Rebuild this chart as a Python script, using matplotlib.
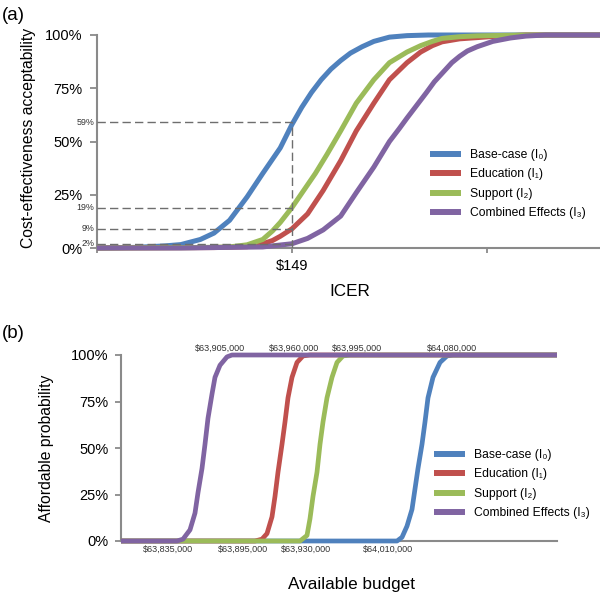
import matplotlib
matplotlib.use('Agg')
import matplotlib.pyplot as plt

plt.rcParams['font.family'] = ['Liberation Sans', 'DejaVu Sans']

# ---- data ----
names = ['Base-case (I₀)', 'Education (I₁)', 'Support (I₂)', 'Combined Effects (I₃)']
colors = ['#4F81BD', '#C0504D', '#9BBB59', '#8064A2']

# (a) acceptability curves; x is an ICER index where $149 sits at 100
icer_base = [0, 20, 35, 43, 53, 60, 68, 77, 85, 94, 100, 105, 110, 115, 120, 125, 130,
             136, 142, 150, 159, 170, 258]
acc_base = [0, 0.3, 1, 1.6, 4, 7, 13, 24, 35, 47, 58, 66, 73, 79, 84, 88, 91.5,
            94.5, 97, 99, 99.7, 100, 100]
icer_edu = [0, 60, 77, 85, 90, 94, 100, 108, 116, 125, 133, 142, 150, 159, 166, 172, 177,
            186, 203, 220, 258]
acc_edu = [0, 0.2, 0.6, 2, 3.5, 5.5, 9, 16, 27, 41, 55, 68, 79, 87, 92, 95, 96.8,
           98.2, 99.3, 100, 100]
icer_sup = [0, 50, 68, 77, 85, 90, 94, 100, 106, 112, 118, 125, 133, 142, 150, 159, 166,
            172, 177, 186, 195, 220, 258]
acc_sup = [0, 0.2, 0.5, 1.5, 4, 8, 12, 19, 27, 35, 44, 55, 68, 79, 87, 92, 95,
           97, 98.4, 99.2, 99.6, 100, 100]
icer_comb = [0, 43, 85, 100, 108, 116, 125, 133, 142, 150, 155, 159, 164, 169, 173, 177,
             182, 186, 190, 195, 203, 212, 220, 230, 258]
acc_comb = [0, 0, 0.5, 2, 4.5, 8.5, 15, 26, 38, 50, 56, 61, 67, 73, 78, 82,
            87, 90, 92.5, 94.5, 97, 98.6, 99.5, 100, 100]
icer_ticks = [0, 100, 200]
icer_ticklabels = ['', '$149', '']
ref_icer = 100
ref_levels = [59, 19, 9, 2]

# (b) affordability curves; x is a budget index
bud_base = [0, 276, 281, 286, 291, 294, 297, 301, 304, 307, 312, 319, 326, 332, 436]
aff_base = [0, 0, 2, 8, 17, 28, 39, 52, 64, 77, 88, 96, 99.5, 100, 100]
bud_edu = [0, 134, 141, 146, 151, 154, 157, 161, 164, 167, 171, 176, 182, 189, 436]
aff_edu = [0, 0, 1, 4, 13, 24, 37, 52, 64, 77, 88, 96, 99.5, 100, 100]
bud_sup = [0, 179, 186, 189, 192, 196, 199, 202, 206, 211, 216, 222, 229, 436]
aff_sup = [0, 0, 3, 12, 24, 37, 52, 64, 77, 88, 96, 99.5, 100, 100]
bud_comb = [0, 56, 62, 69, 74, 77, 81, 84, 87, 91, 94, 99, 106, 111, 436]
aff_comb = [0, 0, 1, 6, 15, 26, 39, 52, 66, 79, 88, 94.5, 99, 100, 100]
low_labels = ['$63,835,000', '$63,895,000', '$63,930,000', '$64,010,000']
high_labels = ['$63,905,000', '$63,960,000', '$63,995,000', '$64,080,000']
low_label_x = [47, 122, 185, 267]
high_label_x = [99, 173, 236, 331]

pct_ticks = [0, 25, 50, 75, 100]
pct_labels = ['0%', '25%', '50%', '75%', '100%']
grey = '#8a8a8a'

fig = plt.figure(figsize=(6, 5.95), dpi=100)


def style_axes(ax, ticklen, pad):
    for s in ['top', 'right']:
        ax.spines[s].set_visible(False)
    for s in ['left', 'bottom']:
        ax.spines[s].set_color(grey)
        ax.spines[s].set_linewidth(1.5)
    ax.set_ylim(0, 100)
    ax.set_yticks(pct_ticks)
    ax.set_yticklabels(pct_labels)
    ax.tick_params(axis='y', length=ticklen, width=1.3, color=grey, pad=pad, labelsize=10.5)


# ---- panel (a) ----
ax1 = fig.add_axes([97 / 600, 1 - 248 / 595, 503 / 600, 213 / 595])
style_axes(ax1, 5, 5.5)
ax1.set_xlim(0, 258)
ax1.set_xticks(icer_ticks)
ax1.set_xticklabels(icer_ticklabels)
ax1.tick_params(axis='x', length=3.6, width=1.3, color=grey, pad=4, labelsize=10.5)

for xs, ys, c, n in zip([icer_base, icer_edu, icer_sup, icer_comb],
                        [acc_base, acc_edu, acc_sup, acc_comb], colors, names):
    ax1.plot(xs, ys, color=c, lw=3.6, label=n, clip_on=False, zorder=3,
             solid_capstyle='butt', solid_joinstyle='round')

for lv in ref_levels:
    ax1.plot([0, ref_icer], [lv, lv], color='#6e6e6e', lw=1, ls=(0, (6, 3)), zorder=4)
    ax1.text(-1.5, lv, f'{lv}%', ha='right', va='center', fontsize=6.4, color='#333333')
ax1.plot([ref_icer, ref_icer], [0, max(ref_levels)], color='#6e6e6e', lw=1, ls=(0, (6, 3)), zorder=4)

leg1 = ax1.legend(loc='upper left', bbox_to_anchor=(430 / 600, 1 - 149 / 595),
                  bbox_transform=fig.transFigure, frameon=False, fontsize=8.7,
                  handlelength=2.6, handletextpad=0.7, labelspacing=0.62,
                  borderpad=0, borderaxespad=0)
for h in leg1.get_lines():
    h.set_linewidth(4.3)

fig.text(2 / 600, 1 - 15 / 595, '(a)', fontsize=13.5, va='center', ha='left')
fig.text(29 / 600, 1 - 138 / 595, 'Cost-effectiveness acceptability', rotation=90,
         fontsize=11.3, ha='center', va='center')
fig.text(350 / 600, 1 - 292 / 595, 'ICER', fontsize=12.3, ha='center', va='center')

# ---- panel (b) ----
ax2 = fig.add_axes([121 / 600, 1 - 541 / 595, 436 / 600, 186 / 595])
style_axes(ax2, 4.3, 4.5)
ax2.set_xlim(0, 436)
ax2.set_xticks([])

for xs, ys, c, n in zip([bud_base, bud_edu, bud_sup, bud_comb],
                        [aff_base, aff_edu, aff_sup, aff_comb], colors, names):
    ax2.plot(xs, ys, color=c, lw=3.4, label=n, clip_on=False, zorder=3,
             solid_capstyle='butt', solid_joinstyle='round')

for x, t in zip(low_label_x, low_labels):
    ax2.text(x, -4.3, t, ha='center', va='center', fontsize=6.5, color='#333333', clip_on=False)
for x, t in zip(high_label_x, high_labels):
    ax2.text(x, 103.8, t, ha='center', va='center', fontsize=6.5, color='#333333', clip_on=False)

leg2 = ax2.legend(loc='upper left', bbox_to_anchor=(434 / 600, 1 - 449 / 595),
                  bbox_transform=fig.transFigure, frameon=False, fontsize=8.7,
                  handlelength=2.6, handletextpad=0.7, labelspacing=0.62,
                  borderpad=0, borderaxespad=0)
for h in leg2.get_lines():
    h.set_linewidth(4.3)

fig.text(2 / 600, 1 - 334 / 595, '(b)', fontsize=13.5, va='center', ha='left')
fig.text(47 / 600, 1 - 448 / 595, 'Affordable probability', rotation=90,
         fontsize=11.3, ha='center', va='center')
fig.text(352 / 600, 1 - 585 / 595, 'Available budget', fontsize=12.3, ha='center', va='center')

fig.savefig('out.png', dpi=100)
